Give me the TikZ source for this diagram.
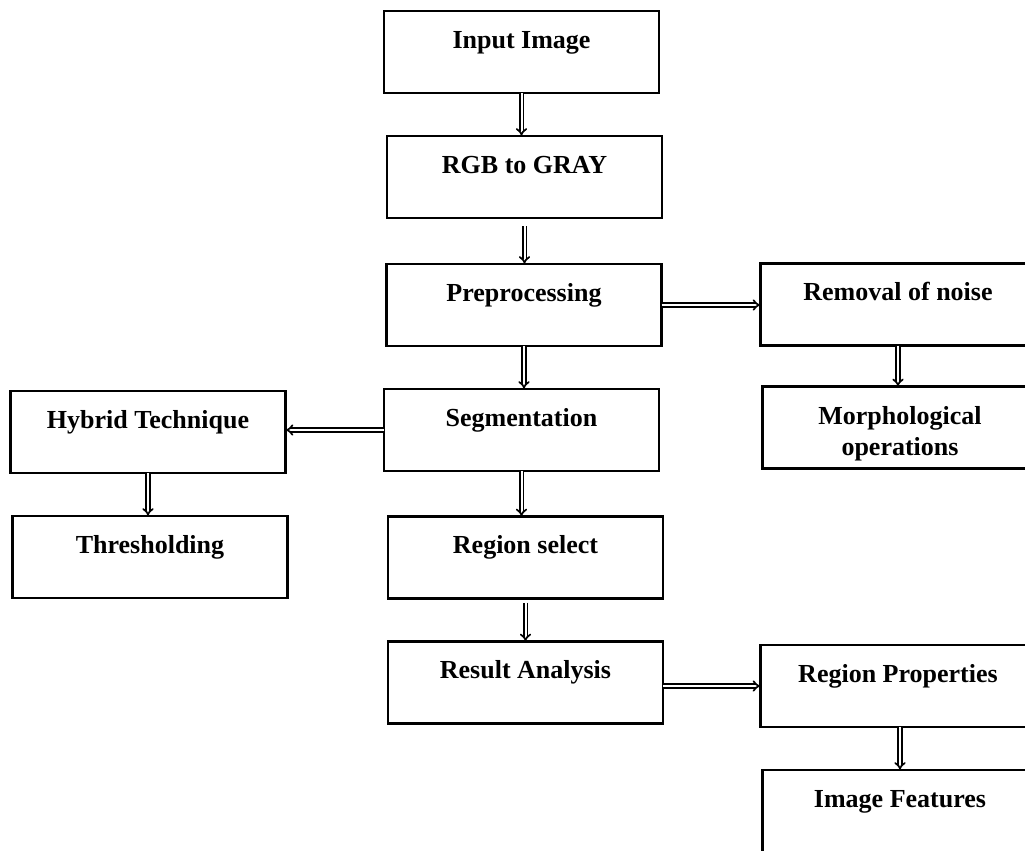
\documentclass[tikz,border=0pt]{standalone}
\usepackage{fontspec}
\setmainfont{Liberation Serif}
\usetikzlibrary{arrows.meta,calc}
\begin{document}
\begin{tikzpicture}[x=0.75pt,y=-0.75pt,
  box/.style={draw,line width=1.7pt,inner sep=0pt,outer sep=0pt,minimum width=206.25pt,minimum height=61.5pt},
  lbl/.style={font=\bfseries\fontsize{19.5}{23}\selectfont,inner sep=0pt,anchor=base},
  dblarrow/.style={double,line width=1.25pt,double distance=1.5pt,-Implies}]
\useasboundingbox (0,0) rectangle (1025,850);
\clip (0,0) rectangle (1025,850);
% centre column
\node[box] (inp) at (521.5,52) {};
\node[box] (rgb) at (524.5,177) {};
\node[box] (pre) at (524,305) {};
\node[box] (seg) at (521.5,430) {};
\node[box] (reg) at (525.5,557.5) {};
\node[box] (res) at (525.5,682.5) {};
% left column
\node[box] (hyb) at (148,432) {};
\node[box] (thr) at (150,557) {};
% right column
\node[box] (rem) at (898,304.5) {};
\node[box] (mor) at (900,427.5) {};
\node[box] (rp) at (898,686) {};
\node[box] (imf) at (900,811) {};
% labels
\node[lbl] (inpT) at ($(inp.north)+(0,37)$) {Input Image};
\node[lbl] (rgbT) at ($(rgb.north)+(0,37)$) {RGB to GRAY};
\node[lbl] (preT) at ($(pre.north)+(0,37)$) {Preprocessing};
\node[lbl] (segT) at ($(seg.north)+(0,37)$) {Segmentation};
\node[lbl] (regT) at ($(reg.north)+(0,37)$) {Region select};
\node[lbl] (resT) at ($(res.north)+(0,37)$) {Result Analysis};
\node[lbl] (hybT) at ($(hyb.north)+(0,37)$) {Hybrid Technique};
\node[lbl] (thrT) at ($(thr.north)+(0,37)$) {Thresholding};
\node[lbl] (remT) at ($(rem.north)+(0,37)$) {Removal of noise};
\node[lbl] (morT) at ($(mor.north)+(0,38)$) {\begin{tabular}[t]{@{}c@{}}Morphological\\operations\end{tabular}};
\node[lbl] (rpT) at ($(rp.north)+(0,37)$) {Region Properties};
\node[lbl] (imfT) at ($(imf.north)+(0,37)$) {Image Features};
% connectors
\draw[dblarrow] (inp.south) -- (inp.south |- rgb.north);
\draw[dblarrow,shorten <=6pt] (rgb.south) -- (rgb.south |- pre.north);
\draw[dblarrow] (pre.south) -- (pre.south |- seg.north);
\draw[dblarrow] (seg.south) -- (seg.south |- reg.north);
\draw[dblarrow,shorten <=3pt] (reg.south) -- (reg.south |- res.north);
\draw[dblarrow] (pre.east) -- (pre.east -| rem.west);
\draw[dblarrow] (seg.west) -- (seg.west -| hyb.east);
\draw[dblarrow] (hyb.south) -- (hyb.south |- thr.north);
\draw[dblarrow] (rem.south) -- (rem.south |- mor.north);
\draw[dblarrow] (rp.west -| res.east) -- (rp.west);
\draw[dblarrow] (imf.north |- rp.south) -- (imf.north);
\end{tikzpicture}
\end{document}
